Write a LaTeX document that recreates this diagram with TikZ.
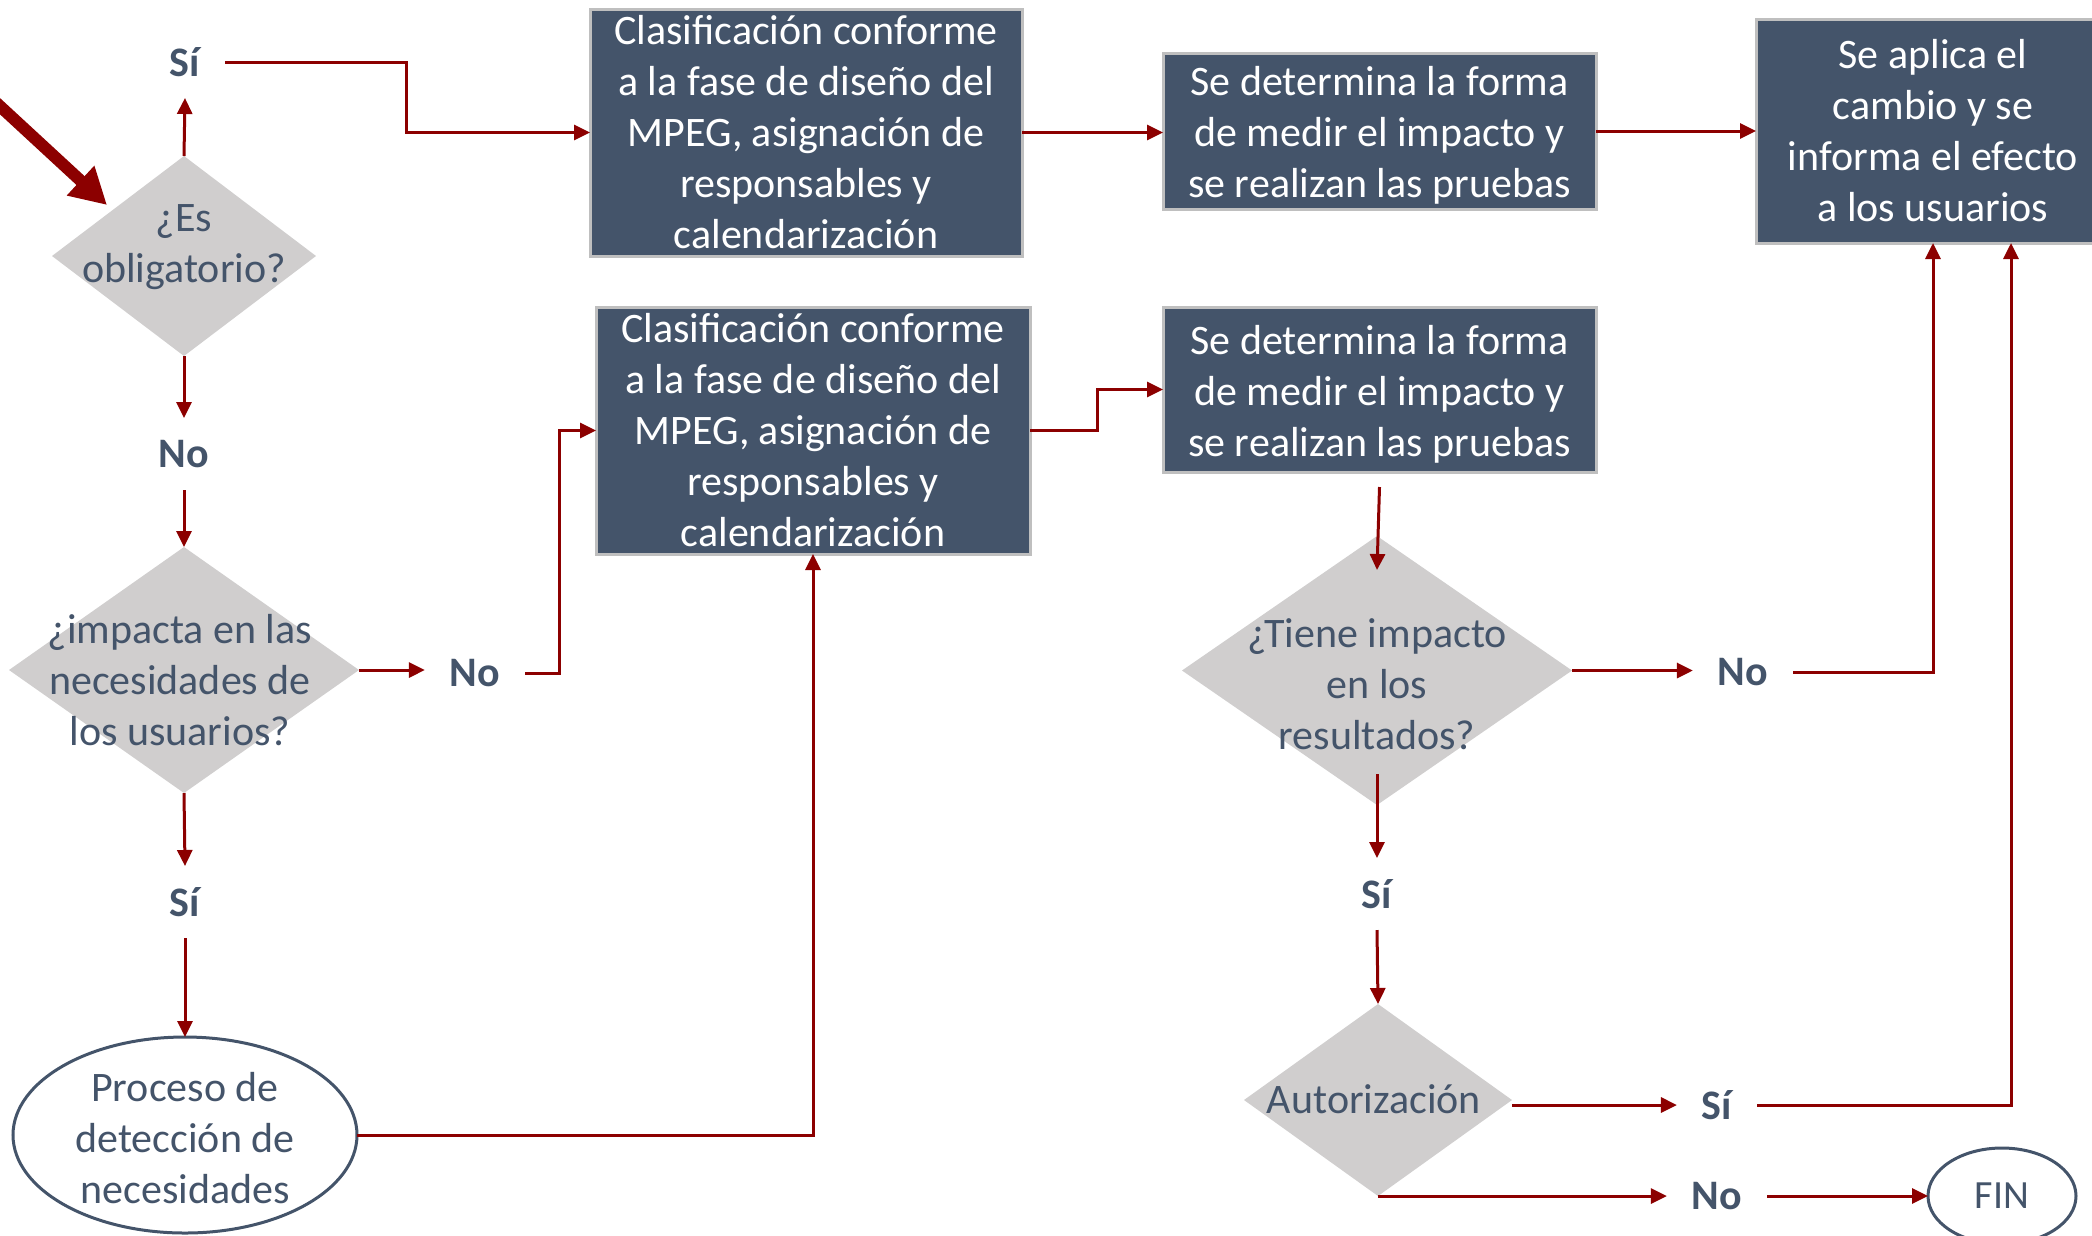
\documentclass[tikz,border=0pt]{standalone}
\usepackage{fontspec}
\setmainfont{Carlito}
\usetikzlibrary{shapes.geometric,arrows.meta,calc}
\definecolor{slate}{HTML}{44546A}
\definecolor{dgray}{HTML}{D0CECE}
\definecolor{dred}{RGB}{140,0,0}
\definecolor{bord}{HTML}{BFBFBF}
\begin{document}
\begin{tikzpicture}[x=1pt,y=-1pt,
  every node/.style={inner sep=0pt, outer sep=0pt},
  box/.style={rectangle, fill=slate, draw=bord, line width=3pt, text=white, align=center, font=\fontsize{42}{51}\selectfont},
  boxtext/.style={text=white, align=center, font=\fontsize{42}{51}\selectfont},
  dia/.style={diamond, fill=dgray},
  dtext/.style={text=slate, align=center, font=\fontsize{42}{51}\selectfont},
  lbl/.style={text=slate, font=\fontsize{42}{51}\selectfont\bfseries, minimum height=72pt, inner xsep=25pt},
  oval/.style={ellipse, draw=slate, line width=3pt, fill=white},
  arr/.style={draw=dred, line width=3pt, -{Triangle[length=16pt,width=15pt]}},
  bigarr/.style={draw=dred, line width=12pt, -{Triangle[length=36pt,width=38pt]}},
]
\useasboundingbox (0,0) rectangle (2092,1235);

% boxes
\node[box, minimum width=432pt, minimum height=247pt] (b1) at (806,132.5) {Clasificación conforme\\a la fase de diseño del\\MPEG, asignación de\\responsables y\\calendarización};
\node[box, minimum width=433pt, minimum height=156pt] (b2) at (1379.5,131) {};
\node[boxtext] (b2t) at (1379.5,135) {Se determina la forma\\de medir el impacto y\\se realizan las pruebas};
\node[box, minimum width=354pt, minimum height=224pt] (b3) at (1933,131) {Se aplica el\\cambio y se\\informa el efecto\\a los usuarios};
\node[box, minimum width=434pt, minimum height=247pt] (b4) at (813,430.5) {Clasificación conforme\\a la fase de diseño del\\MPEG, asignación de\\responsables y\\calendarización};
\node[box, minimum width=433pt, minimum height=165pt] (b5) at (1379.5,389.5) {};
\node[boxtext] (b5t) at (1379.5,394) {Se determina la forma\\de medir el impacto y\\se realizan las pruebas};

% diamonds
\node[dia, minimum width=264pt, minimum height=200pt] (d1) at (184,256) {};
\node[dtext] (d1t) at (184,247) {¿Es\\obligatorio?};
\node[dia, minimum width=350pt, minimum height=246pt] (d2) at (184,670) {};
\node[dtext] (d2t) at (180,680) {¿impacta en las\\necesidades de\\los usuarios?};
\node[dia, minimum width=390pt, minimum height=269pt] (d3) at (1377,670.5) {};
\node[dtext] (d3t) at (1377,684) {¿Tiene impacto\\en los\\resultados?};
\node[dia, minimum width=268pt, minimum height=192pt] (d4) at (1378,1100) {};
\node[dtext] (d4t) at (1374,1099) {Autorización};

% ellipses
\node[oval, minimum width=344pt, minimum height=196pt] (e1) at (185,1135) {};
\node[dtext] (e1t) at (185,1138) {Proceso de\\detección de\\necesidades};
\node[oval, minimum width=148pt, minimum height=96pt] (fin) at (2002,1196) {};
\node[dtext, font=\fontsize{40}{48}\selectfont] (fint) at (2002,1196) {FIN};

% labels
\node[lbl] (si1) at (185,62) {Sí};
\node[lbl] (no1) at (184,454) {No};
\node[lbl] (no2) at (475,673) {No};
\node[lbl] (si2) at (185,902) {Sí};
\node[lbl] (no3) at (1743,672) {No};
\node[lbl] (si3) at (1377,894) {Sí};
\node[lbl] (si4) at (1717,1105) {Sí};
\node[lbl] (no4) at (1717,1196) {No};

% start arrow
\coordinate (s0) at (-10,97);
\coordinate (s1) at (107,205);
\draw[bigarr] (s0) -- (s1);

% connectors
\draw[arr] (d1.north) -- (si1.south);
\draw[arr] (si1.east) -- ++(181,0) |- (b1.west);
\draw[arr] (d1.south) -- (no1.north);
\draw[arr] (no1.south) -- (d2.north);
\draw[arr] (d2.east) -- (d2.east -| no2.west);
\draw[arr] (no2.east) -- ++(34,0) |- (b4.west);
\draw[arr] (d2.south) -- (si2.north);
\draw[arr] (si2.south) -- (e1.north);
\draw[arr] (e1.east) -| (b4.south);
\draw[arr] (b1.east) -- (b1.east -| b2.west);
\draw[arr] (b2.east) -- (b2.east -| b3.west);
\draw[arr] (b4.east) -- ++(67,0) |- (b5.west);
\draw[arr] ([yshift=-15pt]b5.south) -- ([yshift=-34pt]d3.north);
\draw[arr] (d3.east) -- (d3.east -| no3.west);
\draw[arr] (no3.east) -| (b3.south);
\draw[arr] ([yshift=31pt]d3.south) -- (si3.north);
\draw[arr] (si3.south) -- (d4.north);
\draw[arr] (d4.east |- si4.west) -- (si4.west);
\draw[arr] (si4.east) -| ([xshift=78pt]b3.south);
\draw[arr] (d4.south) -- (d4.south -| no4.west);
\draw[arr] (no4.east) -- (fin.west);
\end{tikzpicture}
\end{document}
